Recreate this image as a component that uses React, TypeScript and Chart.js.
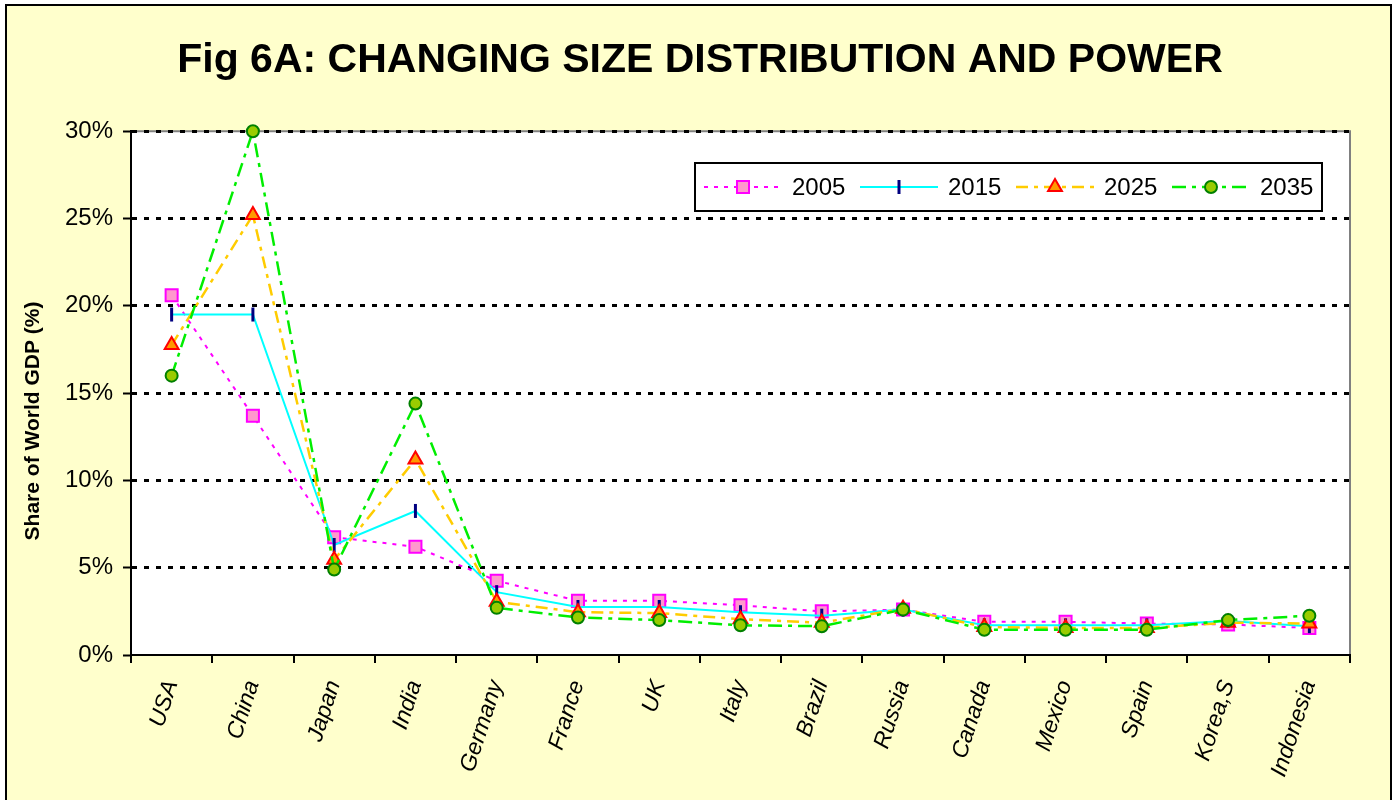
import React, { useEffect, useRef } from 'react';
import { Chart, registerables } from 'chart.js';
import { drawPoint } from 'chart.js/helpers';

Chart.register(...registerables);

const FONT = '"Liberation Sans", Arial, Helvetica, sans-serif';

const categories = ['USA', 'China', 'Japan', 'India', 'Germany', 'France', 'UK', 'Italy', 'Brazil', 'Russia', 'Canada', 'Mexico', 'Spain', 'Korea,S', 'Indonesia'];
const seriesLabels = ['2005', '2015', '2025', '2035'];
const values2005 = [20.6, 13.7, 6.75, 6.2, 4.25, 3.1, 3.1, 2.85, 2.5, 2.6, 1.9, 1.9, 1.8, 1.75, 1.55];
const values2015 = [19.5, 19.5, 6.3, 8.25, 3.6, 2.75, 2.75, 2.45, 2.25, 2.6, 1.7, 1.7, 1.7, 1.95, 1.65];
const values2025 = [17.75, 25.2, 5.45, 11.2, 3.05, 2.45, 2.4, 2.05, 1.85, 2.65, 1.6, 1.55, 1.55, 1.85, 1.8];
const values2035 = [16.0, 30.0, 4.9, 14.4, 2.7, 2.15, 2.0, 1.7, 1.65, 2.6, 1.45, 1.45, 1.45, 2.0, 2.25];
const yMin = 0;
const yMax = 30;
const yStep = 5;

const chartTitle = 'Fig 6A: CHANGING SIZE DISTRIBUTION AND POWER';
const yTitle = 'Share of World GDP (%)';

const areaPlugin = {
  id: 'areaBg',
  beforeDraw(chart: any) {
    const { ctx, chartArea } = chart;
    const { left, top, right, bottom } = chartArea;
    ctx.save();
    ctx.fillStyle = '#FFFFFF';
    ctx.fillRect(left, top, right - left, bottom - top);
    ctx.strokeStyle = '#808080';
    ctx.lineWidth = 2;
    ctx.beginPath();
    ctx.moveTo(left, top);
    ctx.lineTo(right, top);
    ctx.lineTo(right, bottom);
    ctx.stroke();
    ctx.restore();
  },
};

const extrasPlugin = {
  id: 'extras',
  afterDraw(chart: any) {
    const ctx = chart.ctx;
    // y axis title
    ctx.save();
    ctx.translate(26, 415);
    ctx.rotate(-Math.PI / 2);
    ctx.font = `bold 21px ${FONT}`;
    ctx.fillStyle = '#000';
    ctx.textAlign = 'center';
    ctx.textBaseline = 'middle';
    ctx.fillText(yTitle, 0, 0);
    ctx.restore();

    // legend
    const bx = 688, by = 157, bw = 627, bh = 48;
    ctx.save();
    ctx.fillStyle = '#FFFFFF';
    ctx.fillRect(bx, by, bw, bh);
    ctx.lineWidth = 2;
    ctx.strokeStyle = '#000';
    ctx.strokeRect(bx, by, bw, bh);
    const cy = by + bh / 2;
    chart.data.datasets.forEach((ds: any, i: number) => {
      const x = 697 + i * 156;
      ctx.save();
      ctx.strokeStyle = ds.borderColor;
      ctx.lineWidth = ds.borderWidth;
      ctx.setLineDash(ds.borderDash || []);
      ctx.beginPath();
      ctx.moveTo(x, cy);
      ctx.lineTo(x + 78, cy);
      ctx.stroke();
      ctx.restore();
      ctx.save();
      ctx.setLineDash([]);
      ctx.fillStyle = ds.pointBackgroundColor;
      ctx.strokeStyle = ds.pointBorderColor;
      ctx.lineWidth = ds.pointBorderWidth;
      drawPoint(ctx, {
        pointStyle: ds.pointStyle,
        rotation: ds.pointRotation || 0,
        radius: ds.pointRadius,
        borderWidth: ds.pointBorderWidth,
      } as any, x + 39, cy);
      ctx.restore();
      ctx.font = `24px ${FONT}`;
      ctx.fillStyle = '#000';
      ctx.textAlign = 'left';
      ctx.textBaseline = 'middle';
      ctx.fillText(ds.label, x + 88, cy + 1);
    });
    ctx.restore();
  },
};

export default function App() {
  const ref = useRef<HTMLCanvasElement>(null);
  useEffect(() => {
    const chart = new Chart(ref.current as HTMLCanvasElement, {
      type: 'line',
      data: {
        labels: categories,
        datasets: [
          {
            label: seriesLabels[0],
            data: values2005,
            borderColor: '#FF00FF',
            borderWidth: 2,
            borderDash: [4, 6],
            pointStyle: 'rect',
            pointRadius: 8.5,
            pointBackgroundColor: '#FF99CC',
            pointBorderColor: '#FF00FF',
            pointBorderWidth: 2,
            order: 3,
            clip: false,
          },
          {
            label: seriesLabels[1],
            data: values2015,
            borderColor: '#00FFFF',
            borderWidth: 2,
            borderDash: [],
            pointStyle: 'line',
            pointRotation: 90,
            pointRadius: 7,
            pointBackgroundColor: '#000080',
            pointBorderColor: '#000080',
            pointBorderWidth: 3,
            order: 2,
            clip: false,
          },
          {
            label: seriesLabels[2],
            data: values2025,
            borderColor: '#FFCC00',
            borderWidth: 2.5,
            borderDash: [12, 6, 4, 6],
            pointStyle: 'triangle',
            pointRadius: 8,
            pointBackgroundColor: '#FF9900',
            pointBorderColor: '#FF0000',
            pointBorderWidth: 2,
            order: 1,
            clip: false,
          },
          {
            label: seriesLabels[3],
            data: values2035,
            borderColor: '#00EE00',
            borderWidth: 2.5,
            borderDash: [14, 6, 4, 6],
            pointStyle: 'circle',
            pointRadius: 6,
            pointBackgroundColor: '#99CC00',
            pointBorderColor: '#008000',
            pointBorderWidth: 2,
            order: 0,
            clip: false,
          },
        ] as any,
      },
      options: {
        responsive: false,
        animation: false,
        devicePixelRatio: 1,
        layout: { padding: { top: 0, right: 0, bottom: 0, left: 3 } },
        elements: { line: { tension: 0 } },
        plugins: {
          legend: { display: false },
          tooltip: { enabled: false },
          title: {
            display: true,
            text: chartTitle,
            color: '#000',
            font: { family: FONT, size: 41, weight: 'bold' },
            padding: { top: 30, bottom: 46 },
          },
        },
        scales: {
          x: {
            type: 'category',
            offset: true,
            grid: {
              display: true,
              offset: true,
              drawOnChartArea: false,
              drawTicks: true,
              tickLength: 8,
              color: '#000',
              lineWidth: 2,
            },
            border: { display: true, color: '#000', width: 2 },
            ticks: {
              color: '#000',
              font: { family: FONT, size: 23, style: 'italic' },
              minRotation: 72,
              maxRotation: 72,
              autoSkip: false,
              padding: 14,
            },
            afterFit: (s: any) => { s.height = 191; },
          },
          y: {
            min: yMin,
            max: yMax,
            ticks: {
              stepSize: yStep,
              color: '#000',
              font: { family: FONT, size: 24 },
              padding: 10,
              callback: (v: any) => `${v}%`,
            },
            grid: {
              color: (c: any) => (c.tick && c.tick.value === 0 ? 'rgba(0,0,0,0)' : '#000'),
              lineWidth: 3,
              tickColor: '#000',
              tickWidth: 2,
              tickLength: 8,
              tickBorderDash: [],
            },
            border: { display: true, color: '#000', width: 2, dash: [5, 7] },
            afterFit: (s: any) => { s.width = 121; },
          },
          yRightSpace: {
            position: 'right',
            display: true,
            ticks: { display: false },
            grid: { display: false, drawTicks: false },
            border: { display: false },
            afterFit: (s: any) => { s.width = 40; },
          },
        },
      } as any,
      plugins: [areaPlugin, extrasPlugin],
    });
    return () => chart.destroy();
  }, []);

  return (
    <div
      style={{
        position: 'fixed',
        left: 5,
        top: 4,
        width: 1383,
        height: 840,
        border: '2px solid #000',
        background: '#FFFFCC',
      }}
    >
      <canvas ref={ref} width={1383} height={840} style={{ display: 'block', width: 1383, height: 840 }} />
    </div>
  );
}
